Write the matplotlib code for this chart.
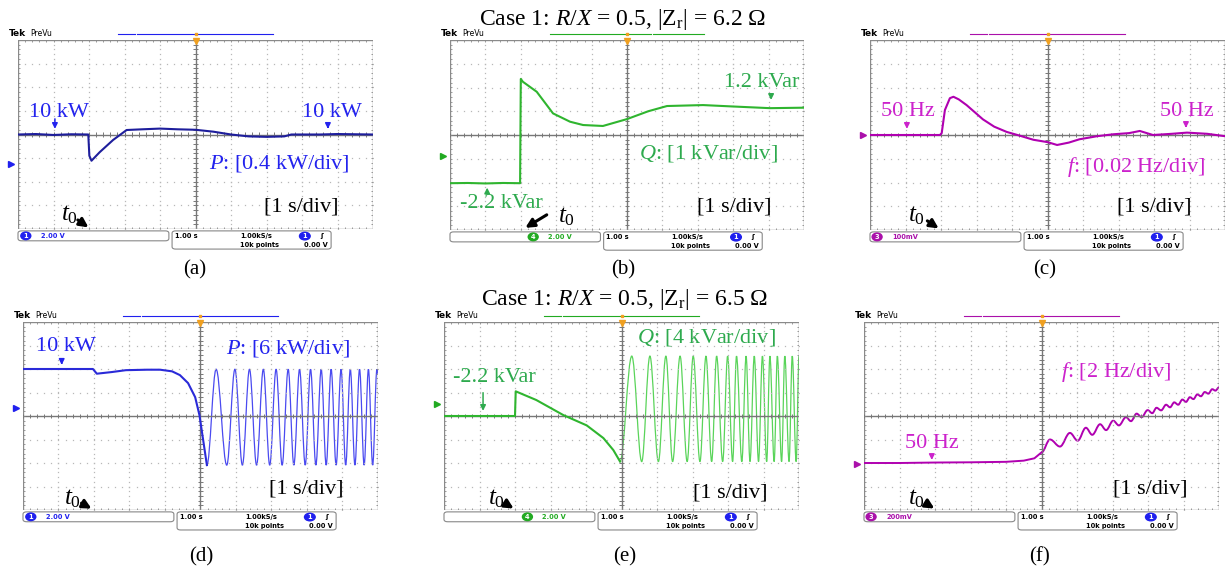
import numpy as np
import matplotlib.pyplot as plt
from matplotlib.patches import FancyBboxPatch, Ellipse, PathPatch
from matplotlib.path import Path

plt.rcParams['font.family'] = ['Liberation Serif', 'DejaVu Serif']
plt.rcParams['mathtext.fontset'] = 'custom'
plt.rcParams['mathtext.rm'] = 'Liberation Serif'
plt.rcParams['mathtext.it'] = 'Liberation Serif:italic'

W, H = 1226, 570

# traces in scope divisions (x: 1 s/div, y: div from centre)
a_t = [0, 0.5, 1.0, 1.5, 1.98, 2.01, 2.07, 2.3, 2.68, 3.06, 3.5, 4.0, 4.5, 5.0, 5.5, 6.0, 6.5, 7.0, 7.5, 7.7, 8.5, 9.0, 10]
a_p = [0, 0.02, -0.02, 0.01, 0, -0.9, -1.11, -0.75, -0.23, 0.19, 0.22, 0.25, 0.22, 0.2, 0.12, 0.0, -0.08, -0.1, -0.08, 0.0, 0.0, 0.02, 0.0]

b_t = [0, 0.5, 1.0, 1.5, 1.98, 2.0, 2.06, 2.45, 2.91, 3.39, 3.76, 4.32, 5.0, 5.6, 6.13, 7.15, 8.0, 9.04, 10]
b_q = [-2.03, -2.02, -2.04, -2.02, -2.03, 2.36, 2.24, 1.82, 0.91, 0.56, 0.42, 0.38, 0.67, 1.0, 1.22, 1.26, 1.2, 1.13, 1.15]

c_t = [0, 1, 1.97, 2.02, 2.11, 2.25, 2.35, 2.5, 2.72, 3.18, 3.5, 3.85, 4.2, 4.6, 5.0, 5.27, 5.6, 5.9, 6.4, 6.85, 7.3, 7.6, 7.97, 8.5, 8.93, 9.5, 10]
c_f = [0, 0, 0, 0.08, 1.05, 1.55, 1.61, 1.5, 1.26, 0.66, 0.35, 0.13, -0.02, -0.2, -0.3, -0.42, -0.32, -0.18, -0.05, 0.03, 0.08, 0.17, 0.0, 0.05, 0.1, 0.05, -0.05]

# (d): slow part up to the first trough, then the swing extremes
d_t = [0, 1, 1.97, 2.08, 2.5, 2.9, 3.5, 3.86, 4.2, 4.42, 4.65, 4.85, 4.97, 5.18]
d_p = [2.0, 2.0, 2.0, 1.8, 1.87, 1.95, 1.97, 1.97, 1.9, 1.74, 1.4, 0.8, 0.04, -2.09]
d_ext_t = [5.18, 5.44, 5.74, 5.97, 6.18, 6.38, 6.58, 6.77, 6.95, 7.13, 7.30, 7.47, 7.63, 7.79,
           7.95, 8.10, 8.25, 8.40, 8.54, 8.68, 8.82, 8.96, 9.09, 9.22, 9.35, 9.48, 9.61, 9.73,
           9.85, 9.97, 10.0]
d_ext_p = [-2.09, 1.99, -2.09, 1.99, -2.09, 1.99, -2.09, 1.99, -2.09, 1.99, -2.09, 1.99, -2.09, 1.99,
           -2.09, 1.99, -2.09, 1.99, -2.09, 1.99, -2.09, 1.99, -2.09, 1.99, -2.09, 1.99, -2.09, 1.99,
           -2.09, 1.99, 1.8]

e_t = [0, 1, 2.0, 2.02, 2.6, 3.36, 4.02, 4.49, 4.77, 4.96]
e_q = [0, 0, 0, 1.05, 0.68, 0.04, -0.4, -0.94, -1.45, -1.94]
e_ext_t = [4.96, 5.29, 5.57, 5.80, 6.04, 6.25, 6.44, 6.65, 6.85, 7.02, 7.21, 7.38, 7.54, 7.68, 7.85,
           7.99, 8.13, 8.24, 8.39, 8.51, 8.62, 8.74, 8.86, 8.97, 9.09, 9.18, 9.30, 9.39, 9.51,
           9.60, 9.72, 9.81, 9.92, 10.0]
e_ext_q = [-1.94, 2.55, -1.94, 2.55, -1.94, 2.55, -1.94, 2.55, -1.94, 2.55, -1.94, 2.55, -1.94, 2.55, -1.94,
           2.55, -1.94, 2.55, -1.94, 2.55, -1.94, 2.55, -1.94, 2.55, -1.94, 2.55, -1.94, 2.55, -1.94,
           2.55, -1.94, 2.55, -1.94, 2.55]

f_t = [0, 1.0, 2.0, 3.0, 4.0, 4.5, 4.8, 5.0]
f_f = [-2.0, -2.0, -1.98, -1.97, -1.95, -1.9, -1.8, -1.55]
f_ext_t = [5.0, 5.24, 5.52, 5.80, 6.02, 6.25, 6.43, 6.65, 6.82, 7.02, 7.18, 7.38, 7.52, 7.68, 7.82, 7.99,
           8.12, 8.24, 8.37, 8.51, 8.62, 8.74, 8.85, 8.97, 9.07, 9.18, 9.28, 9.39, 9.49, 9.60, 9.70,
           9.81, 9.90, 10.0]
f_ext_f = [-1.55, -1.0, -1.3, -0.72, -1.05, -0.5, -0.8, -0.35, -0.6, -0.2, -0.4, -0.05, -0.22, 0.1, -0.05, 0.25,
           0.12, 0.35, 0.24, 0.48, 0.37, 0.58, 0.48, 0.7, 0.6, 0.8, 0.72, 0.92, 0.84, 1.02, 0.95,
           1.14, 1.08, 1.22]

BLUE_T, BLUE = '#1e1e9c', '#2323ee'
GREEN_T, GREEN = '#2fb52f', '#2eaa4e'
MAG_T, MAG = '#b000b0', '#cc22cc'
GRID = '#b8b8b8'
FS = 16


def screen(box, ch, col, level, volts, osc_x):
    x0, y0, x1, y1 = box
    ax = fig.add_axes([x0 / W, 1 - y1 / H, (x1 - x0) / W, (y1 - y0) / H])
    ax.set_xlim(0, 10)
    ax.set_ylim(-4, 4)
    ax.set_axis_off()
    # dotted graticule
    gx, gy = [], []
    for i in range(1, 10):
        if i == 5:
            continue
        for v in np.arange(-4, 4.01, 0.2):
            gx.append(i); gy.append(v)
    for j in range(-3, 4):
        if j == 0:
            continue
        for u in np.arange(0, 10.01, 0.2):
            gx.append(u); gy.append(j)
    ax.plot(gx, gy, ls='none', marker='s', ms=0.9, mew=0, color=GRID)
    ax.plot([0, 10, 10, 0, 0], [-4, -4, 4, 4, -4], color='#8a8a8a', lw=1)
    ax.plot([5, 5], [-4, 4], color='#777777', lw=1)
    ax.plot([0, 10], [0, 0], color='#777777', lw=1)
    ys = np.arange(-4, 4.01, 0.2)
    xs = np.arange(0, 10.01, 0.2)
    ax.hlines(ys, 4.93, 5.07, color='#777777', lw=0.7)
    ax.vlines(xs, -0.1, 0.1, color='#777777', lw=0.7)
    ax.hlines(ys, 0, 0.06, color='#8a8a8a', lw=0.6)
    ax.hlines(ys, 9.94, 10, color='#8a8a8a', lw=0.6)
    ax.vlines(xs, -4, -3.92, color='#8a8a8a', lw=0.6)
    ax.vlines(xs, 3.92, 4, color='#8a8a8a', lw=0.6)

    # header
    ax.text(-0.25, 4.1, 'Tek', fontsize=6.5, weight='bold', family='DejaVu Sans', va='bottom')
    ax.text(0.35, 4.1, 'PreVu', fontsize=5.5, family='DejaVu Sans', va='bottom')
    for s0, s1 in [(2.82, 3.3), (3.34, 5.68), (5.73, 7.18)]:
        ax.plot([s0, s1], [4.27, 4.27], color=col, lw=0.8, clip_on=False)
    ax.plot(5, 4.25, marker='s', ms=2, color='#f0a020', clip_on=False)
    ax.plot(5, 3.95, marker='v', ms=4, color='#f0a020', clip_on=False)
    # ground marker
    ax.plot(-0.2, level, marker='>', ms=5, color=col, clip_on=False)

    # status bar
    ax.add_patch(FancyBboxPatch((0, -4.5), 4.25, 0.42, boxstyle='round,pad=0,rounding_size=0.1',
                                fc='white', ec='#888888', lw=0.8, clip_on=False))
    ax.add_patch(FancyBboxPatch((4.34, -4.85), 4.48, 0.77, boxstyle='round,pad=0,rounding_size=0.1',
                                fc='white', ec='#888888', lw=0.8, clip_on=False))
    ax.add_patch(Ellipse((osc_x, -4.29), 0.28, 0.32, color=col, clip_on=False))
    sb = dict(fontsize=4.8, family='DejaVu Sans', weight='bold', va='center')
    ax.text(osc_x, -4.29, ch, color='white', ha='center', **sb)
    ax.text(osc_x + 0.42, -4.29, volts, color=col, ha='left', **sb)
    ax.text(4.42, -4.3, '1.00 s', ha='left', **sb)
    ax.text(6.25, -4.3, '1.00kS/s', ha='left', **sb)
    ax.text(6.25, -4.66, '10k points', ha='left', **sb)
    ax.add_patch(Ellipse((8.08, -4.3), 0.3, 0.32, color='#2020ee', clip_on=False))
    ax.text(8.08, -4.3, '1', color='white', ha='center', **sb)
    ax.text(8.55, -4.3, '\u0283', ha='center', **sb)
    ax.text(8.73, -4.66, '0.00 V', ha='right', **sb)
    return ax


def wave(ax, t, y, col, lw):
    # smooth swing through the read extremes (flat tangent at each one)
    verts = [(t[0], y[0])]
    codes = [Path.MOVETO]
    for i in range(len(t) - 1):
        d = t[i + 1] - t[i]
        verts += [(t[i] + 0.364 * d, y[i]), (t[i + 1] - 0.364 * d, y[i + 1]), (t[i + 1], y[i + 1])]
        codes += [Path.CURVE4] * 3
    ax.add_patch(PathPatch(Path(verts, codes), fc='none', ec=col, lw=lw))


def arrow(ax, x, y0, y1, col):
    ax.annotate('', xy=(x, y1), xytext=(x, y0),
                arrowprops=dict(arrowstyle='-|>', color=col, lw=1.1, mutation_scale=8))


def t0(ax, tx, ty, tip, tail):
    ax.text(tx, ty, '$t_0$', fontsize=FS + 2, ha='center', va='center')
    ax.annotate('', xy=tip, xytext=tail, annotation_clip=False,
                arrowprops=dict(arrowstyle='-|>', color='black', lw=2.2, mutation_scale=13))


fig = plt.figure(figsize=(W / 100, H / 100), dpi=100)

# (a)
ax = screen((18, 40, 373, 229), '1', '#2020ee', -1.25, '2.00 V', 0.22)
ax.plot(a_t, a_p, color=BLUE_T, lw=1.5)
ax.text(1.15, 0.95, '10 kW', color=BLUE, fontsize=FS, ha='center', va='center')
arrow(ax, 1.04, 0.78, 0.12, BLUE)
ax.text(8.85, 0.95, '10 kW', color=BLUE, fontsize=FS, ha='center', va='center')
arrow(ax, 8.73, 0.49, 0.12, BLUE)
ax.text(7.35, -1.21, '$P$: [0.4 kW/div]', color=BLUE, fontsize=FS, ha='center', va='center')
ax.text(7.99, -3.07, '[1 s/div]', fontsize=FS, ha='center', va='center')
t0(ax, 1.45, -3.4, (2.05, -4.0), (1.62, -3.55))

# (b)
ax = screen((450, 40, 804, 230), '4', '#22aa22', -0.89, '2.00 V', 2.35)
ax.plot(b_t, b_q, color=GREEN_T, lw=1.5)
ax.text(8.81, 2.19, '1.2 kVar', color=GREEN, fontsize=FS, ha='center', va='center')
arrow(ax, 9.07, 1.77, 1.36, GREEN)
ax.text(7.29, -0.8, '$Q$: [1 kVar/div]', color=GREEN, fontsize=FS, ha='center', va='center')
ax.text(1.44, -2.9, '-2.2 kVar', color=GREEN, fontsize=FS, ha='center', va='center')
arrow(ax, 1.05, -2.48, -2.1, GREEN)
ax.text(8.04, -3.03, '[1 s/div]', fontsize=FS, ha='center', va='center')
t0(ax, 3.3, -3.45, (2.06, -3.97), (2.8, -3.3))

# (c)
ax = screen((870, 40, 1225, 230), '3', '#aa10aa', 0.0, '100mV', 0.2)
ax.plot(c_t, c_f, color=MAG_T, lw=1.5)
ax.text(1.06, 1.01, '50 Hz', color=MAG, fontsize=FS, ha='center', va='center')
arrow(ax, 1.04, 0.55, 0.14, MAG)
ax.text(8.92, 1.01, '50 Hz', color=MAG, fontsize=FS, ha='center', va='center')
arrow(ax, 8.9, 0.55, 0.18, MAG)
ax.text(7.49, -1.35, '$f$: [0.02 Hz/div]', color=MAG, fontsize=FS, ha='center', va='center')
ax.text(8.01, -3.03, '[1 s/div]', fontsize=FS, ha='center', va='center')
t0(ax, 1.32, -3.4, (2.0, -4.0), (1.55, -3.55))

# (d)
ax = screen((23, 322, 378, 510), '1', '#2020ee', 0.33, '2.00 V', 0.22)
ax.plot(d_t, d_p, color='#2a2ad8', lw=1.5)
wave(ax, d_ext_t, d_ext_p, '#4a4af0', 0.9)
ax.text(1.21, 2.95, '10 kW', color=BLUE, fontsize=FS, ha='center', va='center')
arrow(ax, 1.09, 2.43, 2.06, BLUE)
ax.text(7.46, 2.89, '$P$: [6 kW/div]', color=BLUE, fontsize=FS, ha='center', va='center')
ax.text(7.99, -3.11, '[1 s/div]', fontsize=FS, ha='center', va='center')
t0(ax, 1.4, -3.5, (2.0, -4.0), (1.58, -3.65))

# (e)
ax = screen((444, 322, 799, 510), '4', '#22aa22', 0.5, '2.00 V', 2.35)
ax.plot(e_t, e_q, color=GREEN_T, lw=1.5)
wave(ax, e_ext_t, e_ext_q, '#5ad45a', 0.9)
ax.text(7.39, 3.32, '$Q$: [4 kVar/div]', color=GREEN, fontsize=FS, ha='center', va='center')
ax.text(1.43, 1.62, '-2.2 kVar', color=GREEN, fontsize=FS, ha='center', va='center')
arrow(ax, 1.1, 1.11, 0.1, GREEN)
ax.text(8.05, -3.28, '[1 s/div]', fontsize=FS, ha='center', va='center')
t0(ax, 1.49, -3.5, (2.03, -4.0), (1.65, -3.65))

# (f)
ax = screen((864, 322, 1219, 510), '3', '#aa10aa', -2.04, '200mV', 0.2)
ax.plot(f_t, f_f, color=MAG_T, lw=1.4)
wave(ax, f_ext_t, f_ext_f, MAG_T, 1.4)
ax.text(7.11, 1.89, '$f$: [2 Hz/div]', color=MAG, fontsize=FS, ha='center', va='center')
ax.text(1.92, -1.15, '50 Hz', color=MAG, fontsize=FS, ha='center', va='center')
arrow(ax, 1.91, -1.57, -1.99, MAG)
ax.text(8.06, -3.11, '[1 s/div]', fontsize=FS, ha='center', va='center')
t0(ax, 1.49, -3.5, (2.05, -4.0), (1.67, -3.65))

# titles and sub labels
fig.text(623 / W, 1 - 20 / H, r'Case 1: $R/X$ = 0.5, |Z$_{\mathrm{r}}$| = 6.2 $\Omega$', fontsize=17,
         ha='center', va='center')
fig.text(625 / W, 1 - 300 / H, r'Case 1: $R/X$ = 0.5, |Z$_{\mathrm{r}}$| = 6.5 $\Omega$', fontsize=17,
         ha='center', va='center')
for lab, px, py in [('(a)', 195, 270), ('(b)', 623, 270), ('(c)', 1045, 270),
                    ('(d)', 201, 557), ('(e)', 625, 557), ('(f)', 1040, 557)]:
    fig.text(px / W, 1 - py / H, lab, fontsize=15, ha='center', va='center')

fig.savefig('out.png', dpi=100, facecolor='white')
